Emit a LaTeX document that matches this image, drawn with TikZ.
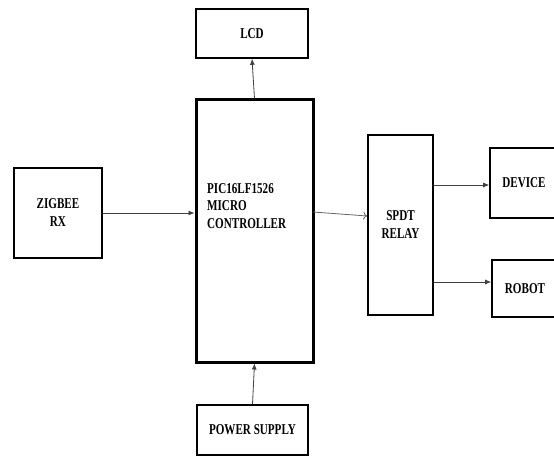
\documentclass[tikz,border=0pt]{standalone}
\usepackage{fontspec}
\setmainfont[FakeStretch=0.74]{Liberation Serif}
\usetikzlibrary{arrows.meta}
\begin{document}
\begin{tikzpicture}[x=1pt,y=-1pt,
  blk/.style={draw=black,line width=1.6pt,inner sep=0pt,font=\fontsize{15}{18}\selectfont\bfseries,align=center},
  conn/.style={draw=black!75,line width=0.8pt,-{Latex[length=6pt,width=5pt]}},
  openconn/.style={draw=black!60,line width=0.8pt,-{To[length=4pt,width=8pt]}}]
\useasboundingbox (0,0) rectangle (554,457);
\clip (0,0) rectangle (554,457);
\fill[white] (0,0) rectangle (554,457);
\node[blk,minimum width=112pt,minimum height=49pt] (lcd) at (252,33.5) {LCD};
\node[blk,minimum width=88pt,minimum height=90pt] (zig) at (58,213) {ZIGBEE\\RX};
\node[blk,line width=3pt,minimum width=117pt,minimum height=262pt] (mcu) at (254.5,231) {};
\node[font=\fontsize{15}{17.5}\selectfont\bfseries,align=left,anchor=north west,inner sep=0pt] (mcut) at (207,183) {PIC16LF1526\\MICRO\\CONTROLLER};
\node[blk,minimum width=65pt,minimum height=180pt] (relay) at (400.5,225) {SPDT\\RELAY};
\node[blk,minimum width=68pt,minimum height=70pt] (dev) at (524,183) {DEVICE};
\node[blk,minimum width=66pt,minimum height=57pt] (rob) at (525,288.5) {ROBOT};
\node[blk,minimum width=111pt,minimum height=50pt] (psu) at (252.5,430) {POWER SUPPLY};
\draw[conn] (mcu.north) -- (lcd.south);
\draw[conn] (zig.east) -- (zig.east -| mcu.west);
\draw[openconn] (313,212) -- (relay.west |- 0,216);
\draw[conn] (relay.east |- 0,185) -- (dev.west |- 0,185);
\draw[conn] (relay.east |- 0,282) -- (rob.west |- 0,282);
\draw[conn] (psu.north) -- (mcu.south);
\end{tikzpicture}
\end{document}
